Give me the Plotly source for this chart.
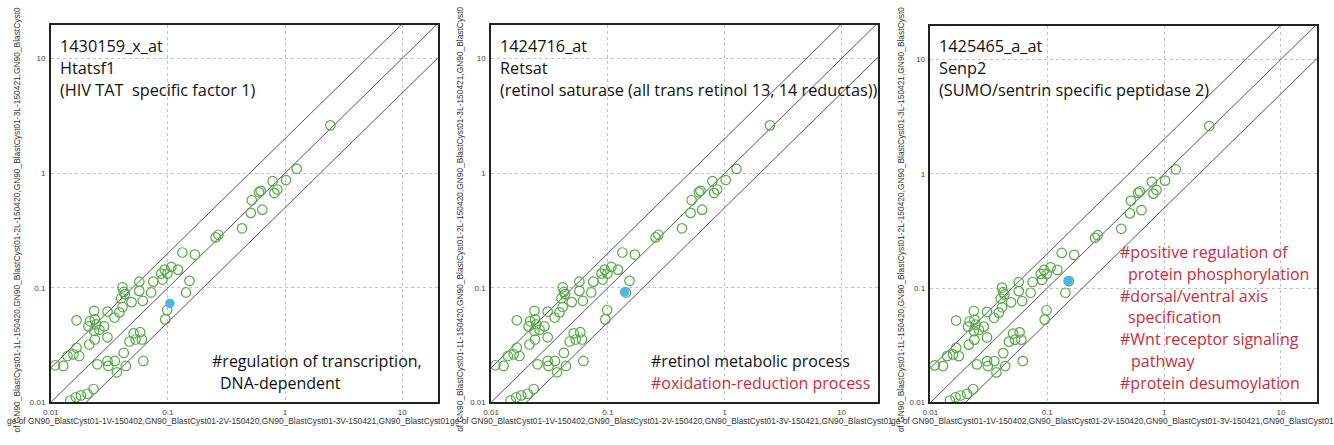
import plotly.graph_objects as go
import math

# ---------------- data ----------------
green_x = [2.44, 1.26, 1.02, 0.785, 0.86, 0.81, 0.62, 0.60, 0.52, 0.51, 0.64, 0.43, 0.27, 0.256,
           0.133, 0.17, 0.122, 0.107, 0.094, 0.099, 0.088, 0.090, 0.153, 0.143, 0.075, 0.072,
           0.057, 0.061, 0.057, 0.041, 0.042, 0.043, 0.040, 0.049, 0.041, 0.0385, 0.035, 0.0305,
           0.0235, 0.0238, 0.0216, 0.0166, 0.0210, 0.0244, 0.0286, 0.0235, 0.026, 0.0305, 0.0238,
           0.0213, 0.0166, 0.0156, 0.0175, 0.0139, 0.0128, 0.0109, 0.051, 0.058, 0.060, 0.053,
           0.047, 0.042, 0.0617, 0.0437, 0.0352, 0.0305, 0.031, 0.0367, 0.025, 0.0232, 0.0206,
           0.0181, 0.0164, 0.0147, 0.095, 0.0986]
green_y = [2.61, 1.09, 0.87, 0.85, 0.72, 0.67, 0.70, 0.68, 0.58, 0.45, 0.48, 0.33, 0.29, 0.275,
           0.203, 0.195, 0.144, 0.152, 0.144, 0.133, 0.133, 0.118, 0.115, 0.091, 0.113, 0.091,
           0.113, 0.077, 0.094, 0.101, 0.092, 0.088, 0.081, 0.075, 0.068, 0.061, 0.055, 0.062,
           0.063, 0.053, 0.051, 0.052, 0.046, 0.048, 0.046, 0.042, 0.043, 0.037, 0.0354,
           0.032, 0.030, 0.0263, 0.0254, 0.0254, 0.0208, 0.0211, 0.040, 0.041, 0.0354, 0.0354,
           0.034, 0.027, 0.023, 0.0208, 0.023, 0.023, 0.0208, 0.0183, 0.0215, 0.0131, 0.0119,
           0.0115, 0.0111, 0.0104, 0.053, 0.064]

highlight_x = [0.104, 0.139, 0.151]
highlight_y = [0.073, 0.092, 0.116]

probe_ids = ["1430159_x_at", "1424716_at", "1425465_a_at"]
gene_symbols = ["Htatsf1", "Retsat", "Senp2"]
gene_names = ["(HIV TAT  specific factor 1)",
              "(retinol saturase (all trans retinol 13, 14 reductas))",
              "(SUMO/sentrin specific peptidase 2)"]

fold_factors = [2.0, 1.0, 0.5]
line_x = [0.001, 100.0]

tick_vals = [0.01, 0.1, 1, 10]
tick_text = ["0.01", "0.1", "1", "10"]

x_title = "ge of GN90_BlastCyst01-1V-150402,GN90_BlastCyst01-2V-150420,GN90_BlastCyst01-3V-150421,GN90_BlastCyst01"
y_title = "of GN90_BlastCyst01-1L-150420,GN90_BlastCyst01-2L-150420,GN90_BlastCyst01-3L-150421,GN90_BlastCyst0"

# GO annotation lines per panel: (text, color, x offset px, y px)
go_lines = [
    [("#regulation of transcription,", "black", 203, 365),
     ("DNA-dependent", "black", 211, 387)],
    [("#retinol metabolic process", "black", 200, 365),
     ("#oxidation-reduction process", "red", 200, 387)],
    [("#positive regulation of", "red", 228, 255),
     ("protein phosphorylation", "red", 236, 277),
     ("#dorsal/ventral axis", "red", 228, 299),
     ("specification", "red", 236, 321),
     ("#Wnt receptor signaling", "red", 228, 343),
     ("pathway", "red", 239, 365),
     ("#protein desumoylation", "red", 228, 387)],
]

# ---------------- layout ----------------
W, H = 1334, 445
panels = [(43, 433, 25, 407), (486, 875, 25, 407), (928, 1317, 26, 407)]
panel_left = [0, 445, 889]

GREEN = "#58a848"
BLUE = "#4cb6e6"
RED = "#d02a3a"
TEXT_FONT = "Open Sans"

fig = go.Figure()
layout = dict(width=W, height=H, margin=dict(l=0, r=0, t=0, b=0),
              paper_bgcolor="white", plot_bgcolor="white", showlegend=False)
annotations = []

for i, (l, r, t, b) in enumerate(panels):
    sfx = "" if i == 0 else str(i + 1)
    xa, ya = "x" + sfx, "y" + sfx
    for f in fold_factors:
        fig.add_trace(go.Scatter(x=line_x, y=[f * v for v in line_x], mode="lines",
                                 line=dict(color="#555555", width=1), xaxis=xa, yaxis=ya,
                                 hoverinfo="skip"))
    fig.add_trace(go.Scatter(x=green_x, y=green_y, mode="markers", xaxis=xa, yaxis=ya,
                             marker=dict(symbol="circle-open", size=9.5, color=GREEN,
                                         line=dict(width=1.2, color=GREEN))))
    fig.add_trace(go.Scatter(x=[highlight_x[i]], y=[highlight_y[i]], mode="markers",
                             xaxis=xa, yaxis=ya,
                             marker=dict(symbol="circle", size=9.5, color=BLUE)))
    common = dict(type="log", tickvals=tick_vals, ticktext=tick_text, showgrid=True,
                  gridcolor="#c4c4c4", griddash="dot", gridwidth=1, showline=True,
                  mirror=True, linecolor="#222222", linewidth=1.5, zeroline=False,
                  ticks="", tickfont=dict(size=8, color="#444444", family="Liberation Sans"))
    layout["xaxis" + sfx] = dict(common, domain=[l / W, r / W], anchor=ya,
                                 range=[-2, math.log10(20.4)], ticklabelstandoff=1)
    layout["yaxis" + sfx] = dict(common, domain=[1 - b / H, 1 - t / H], anchor=xa,
                                 range=[-2, math.log10(19.7)], ticklabelstandoff=2)

    # title block
    tx = (l + 7) / W
    for k, txt in enumerate([probe_ids[i], gene_symbols[i], gene_names[i]]):
        annotations.append(dict(text=txt, xref="paper", yref="paper", x=tx,
                                y=1 - (47 + 22 * k) / H, xanchor="left", yanchor="middle",
                                showarrow=False,
                                font=dict(size=16.3, family=TEXT_FONT, color="#111111")))
    # GO terms
    for txt, col, dx, py in go_lines[i]:
        annotations.append(dict(text=txt, xref="paper", yref="paper",
                                x=(panel_left[i] + dx) / W, y=1 - py / H,
                                xanchor="left", yanchor="middle", showarrow=False,
                                font=dict(size=16, family=TEXT_FONT,
                                          color=RED if col == "red" else "#111111")))
    # axis titles
    annotations.append(dict(text=x_title, xref="paper", yref="paper",
                            x=(panel_left[i] + 222) / W, y=1 - 426 / H,
                            xanchor="center", yanchor="middle", showarrow=False,
                            font=dict(size=8.4, family="Liberation Sans", color="#333333")))
    annotations.append(dict(text=y_title, xref="paper", yref="paper",
                            x=(panel_left[i] + 9) / W, y=1 - 222 / H, textangle=-90,
                            xanchor="center", yanchor="middle", showarrow=False,
                            font=dict(size=8.4, family="Liberation Sans", color="#333333")))

layout["annotations"] = annotations
fig.update_layout(**layout)
fig.write_html("out.html")
